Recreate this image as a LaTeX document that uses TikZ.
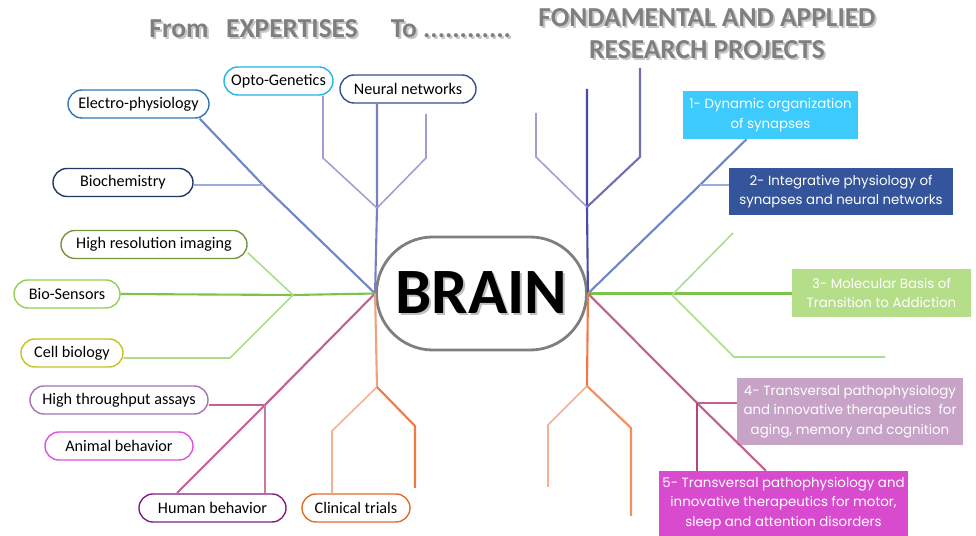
\documentclass[tikz,border=0pt]{standalone}
\usepackage{fontspec}
\setmainfont{Carlito}
\newfontfamily\gothic{Poppins}

\definecolor{cElectro}{HTML}{2E75B6}
\definecolor{cOpto}{HTML}{1FB5E8}
\definecolor{cNeural}{HTML}{3B4E8C}
\definecolor{cBiochem}{HTML}{1F3864}
\definecolor{cHighres}{HTML}{77933C}
\definecolor{cBiosens}{HTML}{92D050}
\definecolor{cCell}{HTML}{C3C320}
\definecolor{cThroughput}{HTML}{A574B5}
\definecolor{cAnimal}{HTML}{E14FE0}
\definecolor{cHuman}{HTML}{7F2080}
\definecolor{cClinical}{HTML}{E26B2A}
\definecolor{lBlue}{HTML}{6E85C8}
\definecolor{lBlueLt}{HTML}{98ADDD}
\definecolor{lPurple}{HTML}{7B7FC2}
\definecolor{lPurpleLt}{HTML}{9D9ED3}
\definecolor{lPurpleDk}{HTML}{4B4BA5}
\definecolor{lGreen}{HTML}{7DC24C}
\definecolor{lGreenLt}{HTML}{ABDB8C}
\definecolor{lPink}{HTML}{C3608F}
\definecolor{lPinkDk}{HTML}{B5457A}
\definecolor{lOrange}{HTML}{F4A07E}
\definecolor{lOrangeLt}{HTML}{F6B090}
\definecolor{lOrangeDk}{HTML}{F07A45}
\definecolor{cOne}{HTML}{3DCBFD}
\definecolor{cTwo}{HTML}{34549B}
\definecolor{cThree}{HTML}{B5DE89}
\definecolor{cFour}{HTML}{C8A3C8}
\definecolor{cFive}{HTML}{D84BCF}
\definecolor{titlegray}{HTML}{7F7F7F}

\newcommand\shadowed[2][black!22]{\leavevmode\rlap{\kern1.4pt\raisebox{-1.4pt}{\textcolor{#1}{#2}}}#2}

\tikzset{
  skill/.style={draw, line width=1pt, fill=white, rounded corners=0.35cm,
    minimum height=0.7cm, inner sep=0pt, font=\fontsize{11.5}{13}\selectfont},
  project/.style={text=white, align=center, inner sep=0pt,
    font=\gothic\fontsize{9.5}{13.9}\selectfont},
  heading/.style={text=titlegray, align=center, inner sep=0pt,
    font=\bfseries\fontsize{19.5}{22.8}\selectfont},
  branch/.style={line width=1.5pt},
  twig/.style={line width=1.1pt},
}

\begin{document}
\begin{tikzpicture}[x=0.025cm,y=-0.025cm]
\useasboundingbox (0,0) rectangle (976,536);

% headings
\node[heading] (from) at (179,30) {\shadowed{From}};
\node[heading] (expert) at (292,30) {\shadowed{EXPERTISES}};
\node[heading] (to) at (451,30) {\shadowed{To ............}};
\node[heading] (research) at (707,35) {\shadowed{FONDAMENTAL AND APPLIED}\\\shadowed{RESEARCH PROJECTS}};

% center
\node[draw=titlegray, line width=2pt, rounded corners=1.41cm, minimum width=5.25cm,
  minimum height=2.825cm, inner sep=0pt, font=\bfseries\fontsize{46}{50}\selectfont]
  (brain) at (481.5,293.5) {\shadowed[black!25]{BRAIN}};

% expertises
\node[skill, draw=cOpto, minimum width=2.725cm] (opto) at (278.5,81) {Opto-Genetics};
\node[skill, draw=cNeural, minimum width=3.4cm] (neural) at (408,89) {Neural networks};
\node[skill, draw=cElectro, minimum width=3.525cm] (electro) at (138.5,104) {Electro-physiology};
\node[skill, draw=cBiochem, minimum width=3.5cm] (biochem) at (123,182.5) {Biochemistry};
\node[skill, draw=cHighres, minimum width=4.65cm] (highres) at (154,244.5) {High resolution imaging};
\node[skill, draw=cBiosens, minimum width=2.65cm] (biosens) at (67,294) {Bio-Sensors};
\node[skill, draw=cCell, minimum width=2.55cm] (cell) at (72,353) {Cell biology};
\node[skill, draw=cThroughput, minimum width=4.45cm] (highthr) at (119,400) {High throughput assays};
\node[skill, draw=cAnimal, minimum width=3.7cm] (animal) at (119,446) {Animal behavior};
\node[skill, draw=cHuman, minimum width=3.675cm] (human) at (212.5,508) {Human behavior};
\node[skill, draw=cClinical, minimum width=2.7cm] (clinical) at (356,508) {Clinical trials};

% projects
\node[project, fill=cOne, minimum width=4.375cm, minimum height=1.2cm] (one) at (770.5,115)
  {1- Dynamic organization\\of synapses};
\node[project, fill=cTwo, minimum width=5.6cm, minimum height=1.175cm] (two) at (841,191.5)
  {2- Integrative physiology of\\synapses and neural networks};
\node[project, fill=cThree, minimum width=4.475cm, minimum height=1.2cm] (three) at (881.5,293)
  {3- Molecular Basis of\\Transition to Addiction};
\node[project, fill=cFour, minimum width=5.65cm, minimum height=1.675cm] (four) at (850,411.5)
  {4- Transversal pathophysiology\\and innovative therapeutics \ for\\aging, memory and cognition};
\node[project, fill=cFive, minimum width=6.225cm, minimum height=1.625cm] (five) at (783.5,503.5)
  {5- Transversal pathophysiology and\\innovative therapeutics for motor,\\sleep and attention disorders};

% left branches
\coordinate (jEl) at (263,185);
\coordinate (jNn) at (377,208);
\coordinate (nnL) at (323,158);
\coordinate (nnR) at (426,158);
\coordinate (nnRe) at (426,114);
\coordinate (jGr) at (293,295);
\coordinate (cTurn) at (230,358);
\coordinate (jPk) at (265,405);
\coordinate (pkEnd) at (177,493);
\coordinate (jOr) at (377,387);
\coordinate (orL) at (332,431);
\coordinate (orR) at (415,426);
\coordinate (orRe) at (415,488);

\draw[branch, lBlue] (brain.west) -- (jEl) -- ([xshift=-0.25cm]electro.south east);
\draw[branch, lBlueLt] (jEl) -- (jEl -| biochem.east);
\draw[branch, lPurple] (brain.west) -- (jNn) -- (jNn |- neural.south);
\draw[twig, lPurpleLt] (jNn) -- (nnL) -- (nnL |- opto.south);
\draw[twig, lPurpleLt] (jNn) -- (nnR) -- (nnRe);
\draw[branch, lGreen] (brain.west) -- (jGr) -- (biosens.east);
\draw[twig, lGreenLt] (jGr) -- (highres.-5);
\draw[twig, lGreenLt] (jGr) -- (cTurn) -- (cTurn -| cell.east);
\draw[branch, lPink] (brain.west) -- (jPk) -- (pkEnd);
\draw[branch, lPink] (jPk) -- (jPk -| highthr.east);
\draw[branch, lPink!85] (jPk) -- (jPk |- human.north);
\draw[branch, lOrange] (brain.west) -- (jOr);
\draw[twig, lOrangeLt] (jOr) -- (orL) -- (orL |- clinical.north);
\draw[branch, lOrangeDk] (jOr) -- (orR) -- (orRe);

% right branches
\coordinate (jRv) at (587,207);
\coordinate (rvTop) at (587,89);
\coordinate (rvL) at (536,157);
\coordinate (rvLe) at (536,113);
\coordinate (rvR) at (640,157);
\coordinate (rvRe) at (640,68);
\coordinate (jRb) at (700,185);
\coordinate (jRg) at (672,295);
\coordinate (gUp) at (733,233);
\coordinate (gDn) at (734,357);
\coordinate (gDe) at (885,357);
\coordinate (jRp) at (697,403);
\coordinate (jRo) at (587,386);
\coordinate (roL) at (548,425);
\coordinate (roLe) at (548,487);
\coordinate (roR) at (631,428);
\coordinate (roRe) at (631,516);

\draw[branch, lPurpleDk] (brain.east) -- (jRv) -- (rvTop);
\draw[twig, lPurpleLt] (jRv) -- (rvL) -- (rvLe);
\draw[branch, lPurpleDk!80] (jRv) -- (rvR) -- (rvRe);
\draw[branch, lBlue] (brain.east) -- (jRb) -- ([xshift=-0.6cm]one.south);
\draw[branch, lBlueLt] (jRb) -- (jRb -| two.west);
\draw[branch, lGreen] (brain.east) -- (brain.east -| three.west);
\draw[twig, lGreenLt] (jRg) -- (gUp);
\draw[twig, lGreenLt] (jRg) -- (gDn) -- (gDe);
\draw[branch, lPink] (brain.east) -- (jRp) -- ([xshift=-0.44cm]five.north);
\draw[branch, lPink] (jRp) -- (jRp -| four.west);
\draw[branch, lPinkDk] (jRp) -- (jRp |- five.north);
\draw[branch, lOrangeDk] (brain.east) -- (jRo);
\draw[twig, lOrangeLt] (jRo) -- (roL) -- (roLe);
\draw[branch, lOrangeDk!85] (jRo) -- (roR) -- (roRe);
\end{tikzpicture}
\end{document}
